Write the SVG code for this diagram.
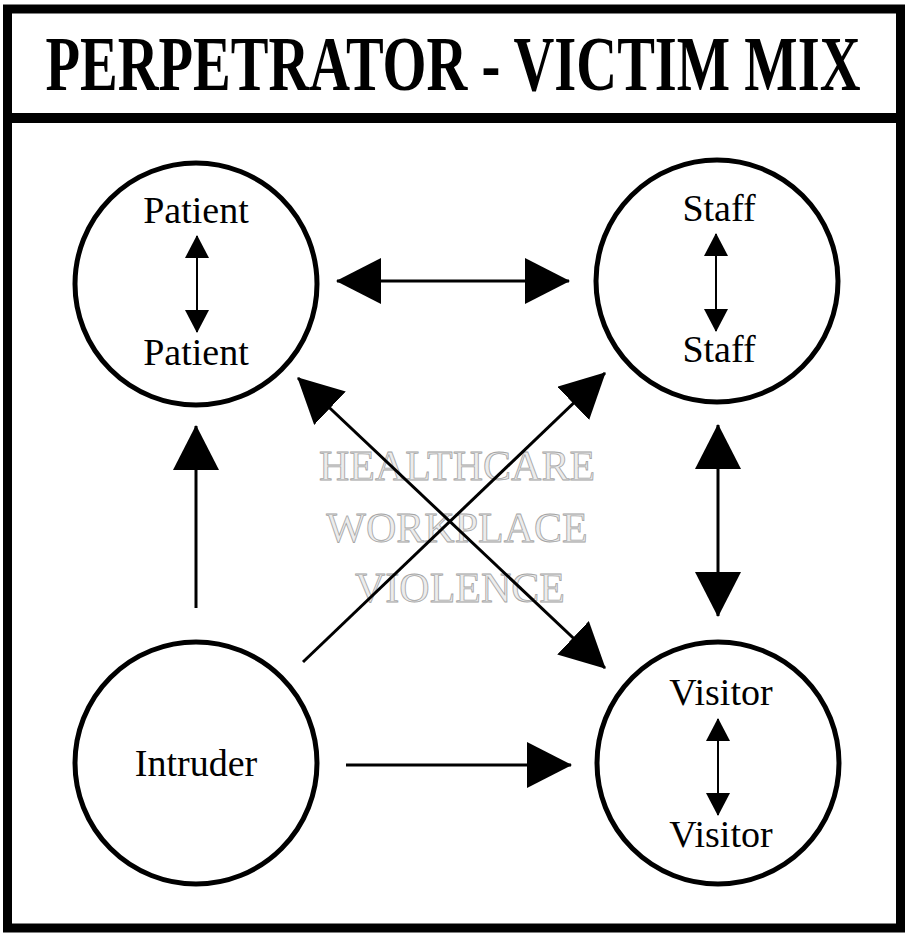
<svg xmlns="http://www.w3.org/2000/svg" width="906" height="933" viewBox="0 0 906 933">
  <style>
    .frame { fill: none; stroke: #000; stroke-width: 9; }
    .node circle { fill: none; stroke: #000; stroke-width: 5; }
    .label { font-family: "Liberation Serif", "Times New Roman", serif; font-size: 38px; fill: #000; text-anchor: middle; }
    .title { font-family: "Liberation Serif", "Times New Roman", serif; font-weight: bold; font-size: 78px; fill: #000; text-anchor: middle; }
    .mark { font-family: "Liberation Serif", "Times New Roman", serif; font-size: 42px; fill: #ececec; stroke: #a4a4a4; stroke-width: 0.8; text-anchor: middle; }
    .link { stroke: #000; stroke-width: 3; fill: none; }
    .inner { stroke: #000; stroke-width: 2; fill: none; }
  </style>
  <defs>
    <marker id="head" markerUnits="userSpaceOnUse" viewBox="0 0 45 46" markerWidth="45" markerHeight="46" refX="44" refY="23" orient="auto-start-reverse">
      <path d="M0,0 L45,23 L0,46 Z" fill="#000"/>
    </marker>
    <marker id="head-sm" markerUnits="userSpaceOnUse" viewBox="0 0 23 24" markerWidth="23" markerHeight="24" refX="22" refY="12" orient="auto-start-reverse">
      <path d="M0,0 L23,12 L0,24 Z" fill="#000"/>
    </marker>
  </defs>

  <rect width="906" height="933" fill="#fff"/>

  <!-- outer frame and title band -->
  <rect class="frame" x="7.5" y="9" width="893" height="919"/>
  <line x1="3" y1="118" x2="903" y2="118" stroke="#000" stroke-width="10"/>
  <!-- condensed bold heading -->
  <text class="title" transform="translate(453 90) scale(0.725 1)" x="0" y="0">PERPETRATOR - VICTIM MIX</text>

  <!-- background caption -->
  <g id="caption">
    <text class="mark" x="457" y="480">HEALTHCARE</text>
    <text class="mark" x="457" y="542">WORKPLACE</text>
    <text class="mark" x="460" y="602">VIOLENCE</text>
  </g>

  <!-- nodes -->
  <g id="patient" class="node">
    <circle cx="196" cy="284" r="121"/>
    <text class="label" x="196" y="223">Patient</text>
    <text class="label" x="196" y="365">Patient</text>
    <line class="inner" x1="197" y1="236" x2="197" y2="332" marker-start="url(#head-sm)" marker-end="url(#head-sm)"/>
  </g>
  <g id="staff" class="node">
    <circle cx="717" cy="281" r="121"/>
    <text class="label" x="719" y="221">Staff</text>
    <text class="label" x="719" y="362">Staff</text>
    <line class="inner" x1="716" y1="234" x2="716" y2="331" marker-start="url(#head-sm)" marker-end="url(#head-sm)"/>
  </g>
  <g id="intruder" class="node">
    <circle cx="196" cy="763" r="121"/>
    <text class="label" x="196" y="776">Intruder</text>
  </g>
  <g id="visitor" class="node">
    <circle cx="718" cy="763" r="121"/>
    <text class="label" x="721" y="705">Visitor</text>
    <text class="label" x="721" y="847">Visitor</text>
    <line class="inner" x1="718" y1="719" x2="718" y2="815" marker-start="url(#head-sm)" marker-end="url(#head-sm)"/>
  </g>

  <!-- connectors -->
  <g id="connectors">
    <line class="link" x1="337" y1="281" x2="569" y2="281" marker-start="url(#head)" marker-end="url(#head)"/>
    <line class="link" x1="196" y1="608" x2="196" y2="426" marker-end="url(#head)"/>
    <line class="link" x1="718" y1="425" x2="718" y2="616" marker-start="url(#head)" marker-end="url(#head)"/>
    <line class="link" x1="346" y1="765" x2="571" y2="765" marker-end="url(#head)"/>
    <line class="link" x1="298" y1="378" x2="605" y2="668" marker-start="url(#head)" marker-end="url(#head)"/>
    <line class="link" x1="303" y1="662" x2="605" y2="373" marker-end="url(#head)"/>
  </g>
</svg>
